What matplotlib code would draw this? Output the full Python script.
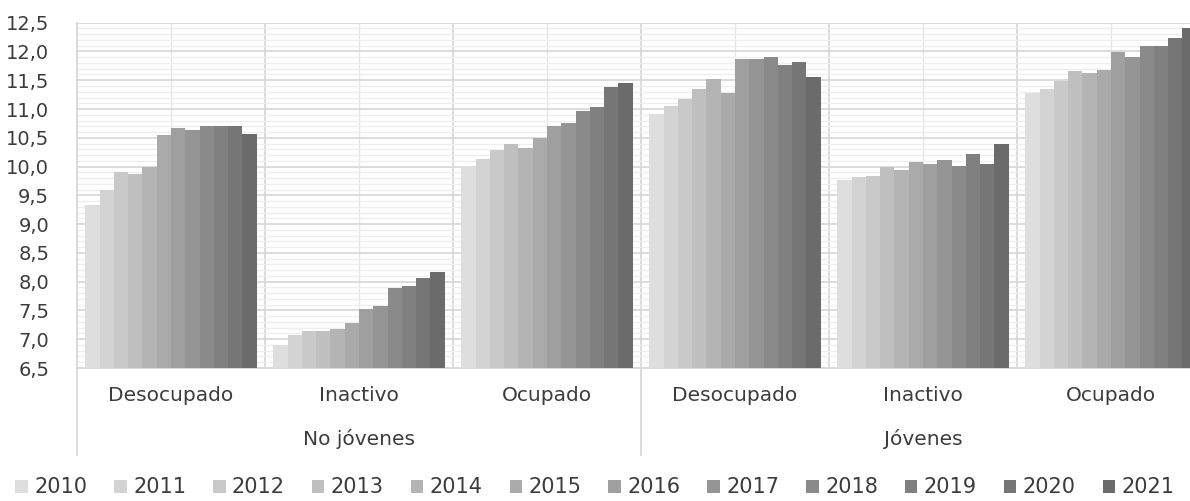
import numpy as np
import matplotlib
matplotlib.use("Agg")
from matplotlib import pyplot as plt
from matplotlib.ticker import MultipleLocator
import matplotlib.transforms as mtransforms

years = ["2010", "2011", "2012", "2013", "2014", "2015",
         "2016", "2017", "2018", "2019", "2020", "2021"]
categories = ["Desocupado", "Inactivo", "Ocupado",
              "Desocupado", "Inactivo", "Ocupado"]
groups = ["No jóvenes", "Jóvenes"]

# one list per category, values for 2010..2021
no_jov_desocupado = [9.34, 9.59, 9.90, 9.87, 9.99, 10.54, 10.67, 10.64, 10.71, 10.71, 10.71, 10.57]
no_jov_inactivo = [6.90, 7.08, 7.14, 7.14, 7.18, 7.29, 7.53, 7.57, 7.89, 7.93, 8.07, 8.17]
no_jov_ocupado = [10.00, 10.14, 10.29, 10.39, 10.33, 10.50, 10.71, 10.75, 10.96, 11.03, 11.38, 11.46]
jov_desocupado = [10.92, 11.06, 11.17, 11.34, 11.52, 11.28, 11.87, 11.87, 11.91, 11.77, 11.81, 11.56]
jov_inactivo = [9.76, 9.82, 9.83, 10.00, 9.94, 10.08, 10.05, 10.11, 10.01, 10.22, 10.04, 10.39]
jov_ocupado = [11.28, 11.35, 11.48, 11.66, 11.63, 11.67, 11.99, 11.91, 12.09, 12.09, 12.23, 12.40]

y_ticks = [6.5, 7.0, 7.5, 8.0, 8.5, 9.0, 9.5, 10.0, 10.5, 11.0, 11.5, 12.0, 12.5]
y_labels = ["6,5", "7,0", "7,5", "8,0", "8,5", "9,0", "9,5",
            "10,0", "10,5", "11,0", "11,5", "12,0", "12,5"]

data = np.array([no_jov_desocupado, no_jov_inactivo, no_jov_ocupado,
                 jov_desocupado, jov_inactivo, jov_ocupado])

txt = "#3c3c3c"
grid_c = "#d9d9d9"
plt.rcParams['font.family'] = ['DejaVu Sans']

fig = plt.figure(figsize=(11.9, 5.01), dpi=100)
ax = fig.add_axes([77 / 1190, 1 - 368 / 501, 1128 / 1190, 345.3 / 501])

n = len(years)
gap = 0.045
bw = (1 - 2 * gap) / n
shades = np.linspace(0.87, 0.42, n)
x0 = np.arange(len(categories))
for j, yr in enumerate(years):
    c = str(shades[j])
    ax.bar(x0 + gap + j * bw, data[:, j] - 6.5, bw, bottom=6.5, align='edge',
           color=c, edgecolor='none', label=yr, zorder=3)

ax.set_xlim(0, len(categories))
ax.set_ylim(6.5, 12.5)
ax.set_yticks(y_ticks)
ax.set_yticklabels(y_labels)
ax.yaxis.set_minor_locator(MultipleLocator(0.1))
ax.set_xticks(np.arange(len(categories) + 1))
ax.set_xticks(x0 + 0.5, minor=True)
ax.set_xticklabels([])
ax.grid(which='major', axis='both', color=grid_c, lw=1.3, zorder=0)
ax.grid(which='minor', axis='y', color="#eeeeee", lw=0.9, zorder=0)
ax.grid(which='minor', axis='x', color="#e6e6e6", lw=1.0, zorder=0)
ax.tick_params(which='both', length=0)
ax.tick_params(axis='y', labelsize=14, labelcolor=txt, pad=20)
for s in ["top", "right"]:
    ax.spines[s].set_visible(False)
for s in ["left", "bottom"]:
    ax.spines[s].set_color(grid_c)
    ax.spines[s].set_linewidth(1.3)

trans = mtransforms.blended_transform_factory(ax.transData, ax.transAxes)
for i, cat in enumerate(categories):
    ax.text(i + 0.5, -27 / 345, cat, transform=trans, ha='center', va='center',
            fontsize=14.5, color=txt)
for k, g in enumerate(groups):
    ax.text(3 * k + 1.5, -71 / 345, g, transform=trans, ha='center', va='center',
            fontsize=14.5, color=txt)
for xs in [0, 3, 6]:
    ax.plot([xs, xs], [0, -87 / 345], transform=trans, color=grid_c, lw=1.3,
            clip_on=False)

fig.legend(loc='center', bbox_to_anchor=(0.5, 0.027), ncol=12, frameon=False,
           fontsize=15, handlelength=0.6, handleheight=0.6, handletextpad=0.3,
           columnspacing=1.3, labelcolor=txt)

fig.savefig("out.png", dpi=100)
